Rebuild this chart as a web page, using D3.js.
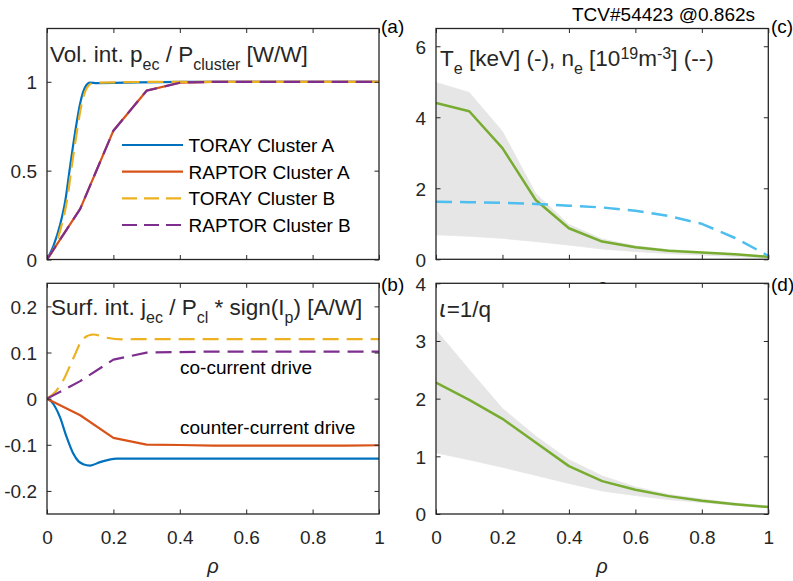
<!DOCTYPE html>
<html><head><meta charset="utf-8">
<script src="https://cdn.jsdelivr.net/npm/d3@7"></script>
<style>
html,body{margin:0;padding:0;background:#fff;}
svg{display:block;font-family:"Liberation Sans",Arial,Helvetica,sans-serif;}
</style></head>
<body>
<svg id="chart" width="793" height="581"></svg>
<script>
// ---------------- DATA ----------------
const rhoGrid = [0, 0.1, 0.2, 0.3, 0.4, 0.5, 0.6, 0.7, 0.8, 0.9, 1];
const xTicks = [0, 0.2, 0.4, 0.6, 0.8, 1];

// (a) volume integrated power
const torayA_vol_rho = [0, 0.02, 0.04, 0.055, 0.07, 0.085, 0.1, 0.115, 0.13, 0.15, 0.4, 1];
const torayA_vol     = [0, 0.08, 0.2, 0.33, 0.53, 0.72, 0.88, 0.97, 0.995, 0.993, 1.0, 1.0];
const torayB_vol_rho = [0, 0.025, 0.045, 0.06, 0.075, 0.09, 0.105, 0.12, 0.14, 0.4, 1];
const torayB_vol     = [0, 0.08, 0.2, 0.33, 0.53, 0.72, 0.88, 0.965, 0.995, 1.0, 1.0];
const raptorA_vol    = [0, 0.285, 0.725, 0.95, 0.995, 1, 1, 1, 1, 1, 1];
const raptorB_vol    = [0, 0.285, 0.725, 0.95, 0.995, 1, 1, 1, 1, 1, 1];
const aTicksY = [0, 0.5, 1];

// (b) surface integrated current
const torayA_cur_rho = [0, 0.014, 0.039, 0.059, 0.079, 0.095, 0.109, 0.13, 0.16, 0.21, 0.3, 1];
const torayA_cur     = [0, -0.007, -0.04, -0.083, -0.119, -0.136, -0.142, -0.145, -0.1375, -0.13, -0.13, -0.13];
const torayB_cur_rho = [0, 0.024, 0.049, 0.079, 0.109, 0.139, 0.18, 0.23, 0.3, 1];
const torayB_cur     = [0, 0.014, 0.04, 0.087, 0.13, 0.139, 0.132, 0.1286, 0.129, 0.129];
const raptorA_cur    = [0, -0.036, -0.085, -0.0998, -0.1005, -0.102, -0.102, -0.102, -0.102, -0.102, -0.101];
const raptorB_cur    = [0, 0.038, 0.0846, 0.0998, 0.101, 0.102, 0.102, 0.102, 0.102, 0.102, 0.102];
const bTicksY = [-0.2, -0.1, 0, 0.1, 0.2];

// (c) kinetic profiles
const Te       = [4.40, 4.17, 3.13, 1.67, 0.875, 0.50, 0.34, 0.24, 0.19, 0.14, 0.07];
const Te_upper = [4.98, 4.70, 3.60, 1.85, 0.98, 0.57, 0.38, 0.27, 0.21, 0.15, 0.09];
const Te_lower = [0.69, 0.65, 0.59, 0.50, 0.40, 0.29, 0.22, 0.16, 0.12, 0.08, 0.04];
const ne       = [1.62, 1.61, 1.59, 1.56, 1.51, 1.46, 1.37, 1.22, 1.00, 0.60, 0.10];
const cTicksY = [0, 2, 4, 6];

// (d) rotational transform
const iota       = [2.28, 1.98, 1.65, 1.24, 0.83, 0.57, 0.42, 0.31, 0.23, 0.17, 0.12];
const iota_upper = [3.19, 2.50, 1.83, 1.35, 0.94, 0.66, 0.47, 0.34, 0.26, 0.19, 0.14];
const iota_lower = [1.06, 0.94, 0.81, 0.67, 0.53, 0.40, 0.32, 0.25, 0.20, 0.15, 0.11];
const dTicksY = [0, 1, 2, 3, 4];

const legendLabels = ["TORAY Cluster A", "RAPTOR Cluster A", "TORAY Cluster B", "RAPTOR Cluster B"];

// ---------------- STYLE ----------------
const C = {blue:"#0072BD", orange:"#D95319", yellow:"#EDB120", purple:"#7E2F8E", green:"#77AC30", cyan:"#4DBEEE", band:"#e6e6e6", axis:"#262626"};
const DASH = "16,8";
const FS = 19, TFS = 22.5, SFS = 16;

const svg = d3.select("#chart");
const zip = (xs, ys) => xs.map((x, i) => [x, ys[i]]);

function panel(id, box, yDomain, yTicks, showXLabels) {
  const x = d3.scaleLinear().domain([0, 1]).range([box.x0, box.x1]);
  const y = d3.scaleLinear().domain(yDomain).range([box.y1, box.y0]);
  const g = svg.append("g").attr("id", id);
  g.append("rect").attr("x", box.x0).attr("y", box.y0).attr("width", box.x1 - box.x0).attr("height", box.y1 - box.y0).attr("fill", "#fff");
  const clipId = "clip-" + id;
  svg.append("clipPath").attr("id", clipId).append("rect")
     .attr("x", box.x0).attr("y", box.y0 - 2).attr("width", box.x1 - box.x0 + 2).attr("height", box.y1 - box.y0 + 4);
  const plot = g.append("g").attr("clip-path", `url(#${clipId})`);
  const axes = g.append("g");
  return {x, y, g, plot, axes, box, yTicks, showXLabels};
}

function drawAxes(p) {
  const {x, y, axes, box} = p;
  const tl = 4.5;
  const bottom = axes.append("g").attr("transform", `translate(0,${box.y1})`)
    .call(d3.axisBottom(x).tickValues(xTicks).tickSize(-tl).tickPadding(17)
      .tickFormat(p.showXLabels ? (d => String(d)) : () => ""));
  const top = axes.append("g").attr("transform", `translate(0,${box.y0})`)
    .call(d3.axisTop(x).tickValues(xTicks).tickSize(-tl).tickFormat(() => ""));
  const left = axes.append("g").attr("transform", `translate(${box.x0},0)`)
    .call(d3.axisLeft(y).tickValues(p.yTicks).tickSize(-tl).tickPadding(10).tickFormat(d => String(d)));
  const right = axes.append("g").attr("transform", `translate(${box.x1},0)`)
    .call(d3.axisRight(y).tickValues(p.yTicks).tickSize(-tl).tickFormat(() => ""));
  [bottom, top, left, right].forEach(a => {
    a.select(".domain").remove();
    a.selectAll(".tick line").attr("stroke", C.axis).attr("stroke-width", 1);
    a.selectAll(".tick text").attr("fill", C.axis).style("font-size", FS + "px")
      .style("font-family", '"Liberation Sans",Arial,sans-serif');
  });
  left.selectAll(".tick text").attr("dy", "0.36em");
  bottom.selectAll(".tick text").attr("dy", "0.71em");
  axes.append("rect").attr("x", box.x0).attr("y", box.y0).attr("width", box.x1 - box.x0).attr("height", box.y1 - box.y0)
    .attr("fill", "none").attr("stroke", C.axis).attr("stroke-width", 1.3);
}

function line(p, pts, color, dashed, curve, width) {
  const gen = d3.line().x(d => p.x(d[0])).y(d => p.y(d[1])).curve(curve || d3.curveLinear);
  p.plot.append("path").datum(pts).attr("d", gen).attr("fill", "none")
    .attr("stroke", color).attr("stroke-width", width || 2.2)
    .attr("stroke-dasharray", dashed ? DASH : null).attr("stroke-linejoin", "round");
}
function band(p, up, lo) {
  const gen = d3.area().x((d, i) => p.x(rhoGrid[i])).y0((d, i) => p.y(lo[i])).y1(d => p.y(d));
  p.plot.append("path").datum(up).attr("d", gen).attr("fill", C.band).attr("stroke", C.band).attr("stroke-width", 0.8);
}
function richText(parent, x, yBase, parts, fs) {
  const t = parent.append("text").attr("x", x).attr("y", yBase).attr("fill", C.axis).style("font-size", fs + "px");
  let cur = 0;
  parts.forEach(([txt, kind]) => {
    const off = kind === "sub" ? 8 : kind === "sup" ? -7 : 0;
    const ts = t.append("tspan").attr("dy", off - cur).style("font-size", (kind === "sub" || kind === "sup" ? SFS : fs) + "px").text(txt);
    if (kind === "ital") ts.style("font-style", "italic").style("font-family", '"DejaVu Sans",sans-serif');
    cur = off;
  });
  return t;
}

// ---------------- PANEL (a) ----------------
const pa = panel("pa", {x0: 47, x1: 379, y0: 28.5, y1: 259.5}, [0, 1.3], aTicksY, false);
line(pa, zip(torayA_vol_rho, torayA_vol), C.blue, false, d3.curveMonotoneX);
line(pa, zip(rhoGrid, raptorA_vol), C.orange, false);
line(pa, zip(torayB_vol_rho, torayB_vol), C.yellow, true, d3.curveMonotoneX);
line(pa, zip(rhoGrid, raptorB_vol), C.purple, true);
drawAxes(pa);
richText(pa.g, 50, 62, [["Vol. int. p"], ["ec", "sub"], [" / P"], ["cluster", "sub"], [" [W/W]"]], TFS);
// legend
const legColors = [C.blue, C.orange, C.yellow, C.purple];
const legDash = [false, false, true, true];
const legRowY = [145, 171.7, 198.3, 225];
legendLabels.forEach((lab, i) => {
  pa.g.append("line").attr("x1", 122).attr("x2", 183).attr("y1", legRowY[i]).attr("y2", legRowY[i])
    .attr("stroke", legColors[i]).attr("stroke-width", 2.2).attr("stroke-dasharray", legDash[i] ? "15,7" : null);
  pa.g.append("text").attr("x", 188.5).attr("y", legRowY[i] + 7).attr("fill", "#000").style("font-size", FS + "px").text(lab);
});
svg.append("text").attr("x", 381).attr("y", 33).attr("fill", "#000").style("font-size", FS + "px").text("(a)");

// ---------------- PANEL (b) ----------------
const pb = panel("pb", {x0: 47, x1: 379, y0: 283.3, y1: 514}, [-0.25, 0.25], bTicksY, true);
line(pb, zip(torayA_cur_rho, torayA_cur), C.blue, false, d3.curveMonotoneX);
line(pb, zip(rhoGrid, raptorA_cur), C.orange, false);
line(pb, zip(torayB_cur_rho, torayB_cur), C.yellow, true, d3.curveMonotoneX);
line(pb, zip(rhoGrid, raptorB_cur), C.purple, true);
drawAxes(pb);
richText(pb.g, 51, 315, [["Surf. int. j"], ["ec", "sub"], [" / P"], ["cl", "sub"], [" * sign(I"], ["p", "sub"], [") [A/W]"]], TFS);
pb.g.append("text").attr("x", 180).attr("y", 374).attr("fill", "#000").style("font-size", FS + "px").text("co-current drive");
pb.g.append("text").attr("x", 180).attr("y", 434).attr("fill", "#000").style("font-size", FS + "px").text("counter-current drive");
svg.append("text").attr("x", 381).attr("y", 291).attr("fill", "#000").style("font-size", FS + "px").text("(b)");
svg.append("text").attr("x", 213).attr("y", 573).attr("text-anchor", "middle").attr("fill", C.axis)
  .style("font-size", "20px").style("font-style", "italic").text("ρ");

// ---------------- PANEL (c) ----------------
const pc = panel("pc", {x0: 436, x1: 768.3, y0: 28.5, y1: 259.3}, [0, 6.5], cTicksY, false);
band(pc, Te_upper, Te_lower);
line(pc, zip(rhoGrid, Te), C.green, false, null, 2.5);
line(pc, zip(rhoGrid, ne), C.cyan, true, null, 2.5);
drawAxes(pc);
richText(pc.g, 440, 66, [["T"], ["e", "sub"], [" [keV] (-), n"], ["e", "sub"], [" [10"], ["19", "sup"], ["m"], ["-3", "sup"], ["] (--)"]], TFS);
svg.append("text").attr("x", 771).attr("y", 33).attr("fill", "#000").style("font-size", FS + "px").text("(c)");
svg.append("text").attr("x", 572).attr("y", 20.5).attr("fill", "#000").style("font-size", FS + "px").text("TCV#54423 @0.862s");
svg.append("text").attr("x", 602).attr("y", 292.5).attr("text-anchor", "middle").attr("fill", C.axis)
  .style("font-size", "20px").style("font-style", "italic").text("ρ");

// ---------------- PANEL (d) ----------------
const pd = panel("pd", {x0: 436, x1: 768.3, y0: 283.3, y1: 514}, [0, 4], dTicksY, true);
band(pd, iota_upper, iota_lower);
line(pd, zip(rhoGrid, iota), C.green, false, null, 2.5);
drawAxes(pd);
richText(pd.g, 439, 316.5, [["ι", "ital"], ["=1/q"]], TFS);
svg.append("text").attr("x", 771).attr("y", 291).attr("fill", "#000").style("font-size", FS + "px").text("(d)");
svg.append("text").attr("x", 602).attr("y", 573).attr("text-anchor", "middle").attr("fill", C.axis)
  .style("font-size", "20px").style("font-style", "italic").text("ρ");
</script>
</body></html>
